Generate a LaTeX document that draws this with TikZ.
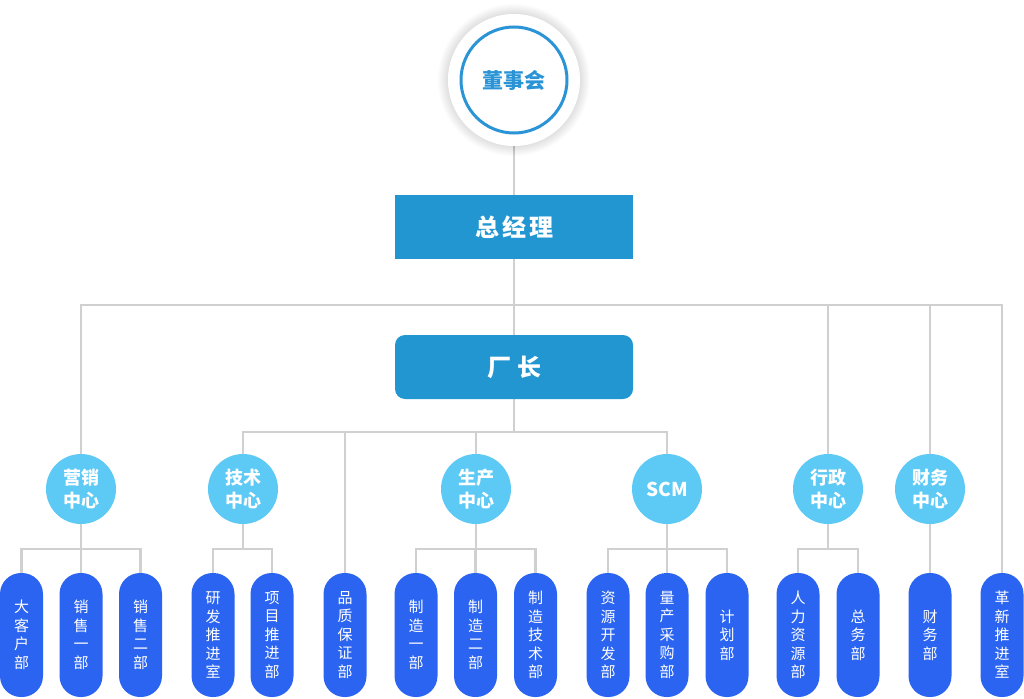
\documentclass[tikz,border=0pt]{standalone}
\usepackage{fontspec}
\setmainfont{Noto Sans CJK SC}
\usetikzlibrary{backgrounds}
\definecolor{ringblue}{HTML}{2A94D6}
\definecolor{boxblue}{HTML}{2196D1}
\definecolor{cirblue}{HTML}{5DC9F5}
\definecolor{pillblue}{HTML}{2B64F0}
\definecolor{linegray}{HTML}{D0D0D0}
\tikzset{
  conn/.style={draw=linegray, line width=2.5pt},
  board/.style={circle, fill=white, minimum size=132pt, inner sep=0pt, text=ringblue,
    font=\fontsize{21}{24}\selectfont\bfseries,
    path picture={\draw[ringblue, line width=3pt] (path picture bounding box.center) circle[radius=53pt];}},
  headbox/.style={rectangle, fill=boxblue, minimum width=238pt, minimum height=64pt, inner sep=0pt,
    text=white, font=\fontsize{24}{28}\selectfont\bfseries},
  hub/.style={circle, fill=cirblue, minimum size=70pt, inner sep=0pt, text=white,
    font=\fontsize{18}{23}\selectfont\bfseries, align=center},
  pill/.style={rectangle, rounded corners=21pt, fill=pillblue, minimum width=43pt, minimum height=124pt,
    inner sep=0pt, text=white, font=\fontsize{15}{18.5}\selectfont, align=center},
}
\begin{document}
\begin{tikzpicture}[x=1pt,y=-1pt]
\useasboundingbox (0,0) rectangle (1024,698);
% soft shadow of the top circle
\foreach \r in {67,68,...,76} {\fill[black,opacity=0.012] (514,80) circle[radius=\r pt];}
% top
\node[board] (dsh) at (514,80) {董事会};
\node[headbox] (gm) at (514,227) {总\hspace{3pt}经\hspace{3pt}理};
\node[headbox, rounded corners=10pt] (cz) at (514,367) {厂\hspace{6pt}长};
% centres
\node[hub] (yx) at (81,489) {营销\\中心};
\node[hub] (js) at (243,489) {技术\\中心};
\node[hub] (sc) at (476,489) {生产\\中心};
\node[hub, font=\fontsize{19}{23}\selectfont\bfseries] (scm) at (667,489) {SCM};
\node[hub] (xz) at (828,489) {行政\\中心};
\node[hub] (cw) at (930,489) {财务\\中心};
% departments
\node[pill] (p1) at (21.5,635) {大\\客\\户\\部};
\node[pill] (p2) at (81,635) {销\\售\\一\\部};
\node[pill] (p3) at (140.5,635) {销\\售\\二\\部};
\node[pill] (p4) at (213,635) {研\\发\\推\\进\\室};
\node[pill] (p5) at (272,635) {项\\目\\推\\进\\部};
\node[pill] (p6) at (345,635) {品\\质\\保\\证\\部};
\node[pill] (p7) at (416,635) {制\\造\\一\\部};
\node[pill] (p8) at (475.5,635) {制\\造\\二\\部};
\node[pill] (p9) at (535.5,635) {制\\造\\技\\术\\部};
\node[pill] (p10) at (608,635) {资\\源\\开\\发\\部};
\node[pill] (p11) at (667,635) {量\\产\\采\\购\\部};
\node[pill] (p12) at (727,635) {计\\划\\部};
\node[pill] (p13) at (798,635) {人\\力\\资\\源\\部};
\node[pill] (p14) at (858,635) {总\\务\\部};
\node[pill] (p15) at (930,635) {财\\务\\部};
\node[pill] (p16) at (1002,635) {革\\新\\推\\进\\室};
% bus levels
\coordinate (b1) at (0,305);
\coordinate (b2) at (0,432);
\coordinate (b3) at (0,549);
\begin{scope}[on background layer]
  \draw[conn] (dsh.south) -- (gm.north);
  \draw[conn] (gm.south) -- (cz.north);
  \foreach \n in {yx,xz,cw,p16} \draw[conn] (gm.south) -- (gm.south |- b1) -| (\n.north);
  \foreach \n in {js,p6,sc,scm} \draw[conn] (cz.south) -- (cz.south |- b2) -| (\n.north);
  \foreach \n in {p1,p2,p3} \draw[conn] (yx.south) -- (yx.south |- b3) -| (\n.north);
  \foreach \n in {p4,p5} \draw[conn] (js.south) -- (js.south |- b3) -| (\n.north);
  \foreach \n in {p7,p8,p9} \draw[conn] (sc.south) -- (sc.south |- b3) -| (\n.north);
  \foreach \n in {p10,p11,p12} \draw[conn] (scm.south) -- (scm.south |- b3) -| (\n.north);
  \foreach \n in {p13,p14} \draw[conn] (xz.south) -- (xz.south |- b3) -| (\n.north);
  \draw[conn] (cw.south) -- (p15.north);
\end{scope}
\end{tikzpicture}
\end{document}
